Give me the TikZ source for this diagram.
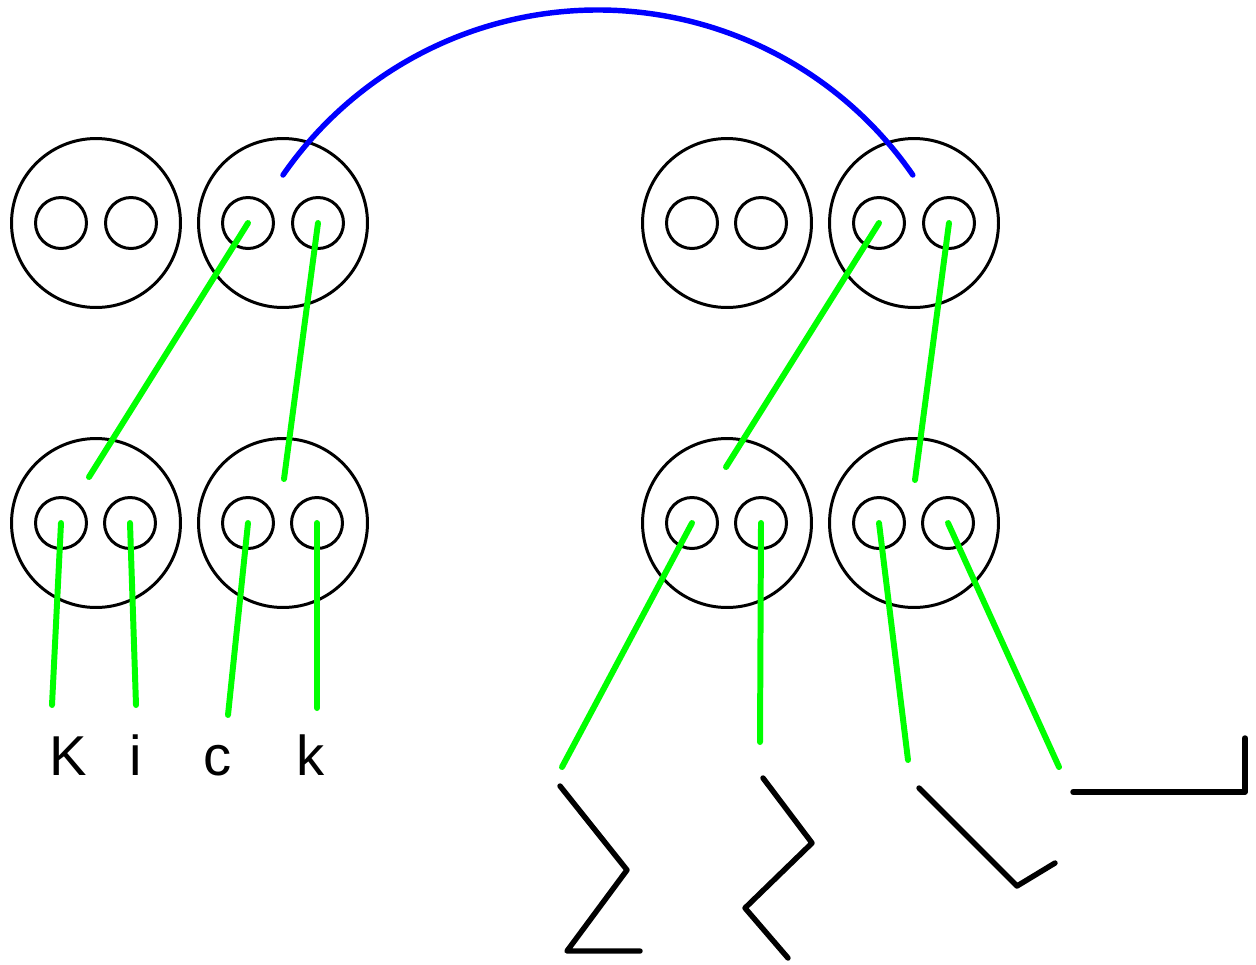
\documentclass[tikz,border=0pt]{standalone}
\usepackage{fontspec}
\setmainfont{Liberation Sans}
\begin{document}
\begin{tikzpicture}[x=0.02cm,y=-0.02cm,
  ring/.style={circle,draw=black,line width=1.7pt,inner sep=0pt,minimum size=3.38cm},
  hole/.style={circle,draw=black,line width=1.7pt,inner sep=0pt,minimum size=1.02cm},
  wire/.style={draw=green,line width=3.4pt,line cap=round},
  link/.style={draw=blue,line width=3.1pt,line cap=round},
  stroke/.style={draw=black,line width=3.1pt,line cap=round,line join=round},
  letter/.style={anchor=base,inner sep=0pt,font=\fontsize{32}{40}\selectfont}]
\fill[white] (0,0) rectangle (1256,964);
\useasboundingbox (0,0) rectangle (1256,964);

% upper row of rings
\node[ring] (rA) at (96,223) {};
\node[hole] (hA1) at (61,223) {};
\node[hole] (hA2) at (131,223) {};
\node[ring] (rB) at (283,223) {};
\node[hole] (hB1) at (248,223) {};
\node[hole] (hB2) at (318,223) {};
\node[ring] (rC) at (727,223) {};
\node[hole] (hC1) at (692,223) {};
\node[hole] (hC2) at (761,223) {};
\node[ring] (rD) at (914,223) {};
\node[hole] (hD1) at (879,223) {};
\node[hole] (hD2) at (949,223) {};

% lower row of rings
\node[ring] (rE) at (96,523) {};
\node[hole] (hE1) at (61,523) {};
\node[hole] (hE2) at (130,523) {};
\node[ring] (rF) at (283,523) {};
\node[hole] (hF1) at (248,523) {};
\node[hole] (hF2) at (317,523) {};
\node[ring] (rG) at (727,523) {};
\node[hole] (hG1) at (692,523) {};
\node[hole] (hG2) at (761,523) {};
\node[ring] (rH) at (914,523) {};
\node[hole] (hH1) at (879,523) {};
\node[hole] (hH2) at (948,523) {};

% free ends of the green wires
\coordinate (tB1) at (89,477);
\coordinate (tB2) at (284,479);
\coordinate (tD1) at (726,467);
\coordinate (tD2) at (915,480);
\coordinate (tE1) at (52,705);
\coordinate (tE2) at (136,705);
\coordinate (tF1) at (228,715);
\coordinate (tF2) at (317,708);
\coordinate (tG1) at (562,767);
\coordinate (tG2) at (760,742);
\coordinate (tH1) at (908,760);
\coordinate (tH2) at (1059,767);

\draw[wire] (hB1.center) -- (tB1);
\draw[wire] (hB2.center) -- (tB2);
\draw[wire] (hD1.center) -- (tD1);
\draw[wire] (hD2.center) -- (tD2);
\draw[wire] (hE1.center) -- (tE1);
\draw[wire] (hE2.center) -- (tE2);
\draw[wire] (hF1.center) -- (tF1);
\draw[wire] (hF2.center) -- (tF2);
\draw[wire] (hG1.center) -- (tG1);
\draw[wire] (hG2.center) -- (tG2);
\draw[wire] (hH1.center) -- (tH1);
\draw[wire] (hH2.center) -- (tH2);

% blue arc joining the two upper pairs
\coordinate (arcL) at (283,175);
\coordinate (arcR) at (913,175);
\draw[link] (arcL) arc[start angle=214.69, end angle=325.31, radius=383];

% lettering under the left pair
\node[letter] (lK) at (68,775) {K};
\node[letter] (li) at (136,775) {i};
\node[letter] (lc) at (218,775) {c};
\node[letter] (lk) at (311,775) {k};

% black strokes under the right pair
\draw[stroke] (560,786) -- (627,870) -- (567,951) -- (640,951);
\draw[stroke] (763,778) -- (812,843) -- (745,908) -- (788,958);
\draw[stroke] (919,788) -- (1017,886) -- (1055,863);
\draw[stroke] (1073,792) -- (1245,792) -- (1245,738);
\end{tikzpicture}
\end{document}
